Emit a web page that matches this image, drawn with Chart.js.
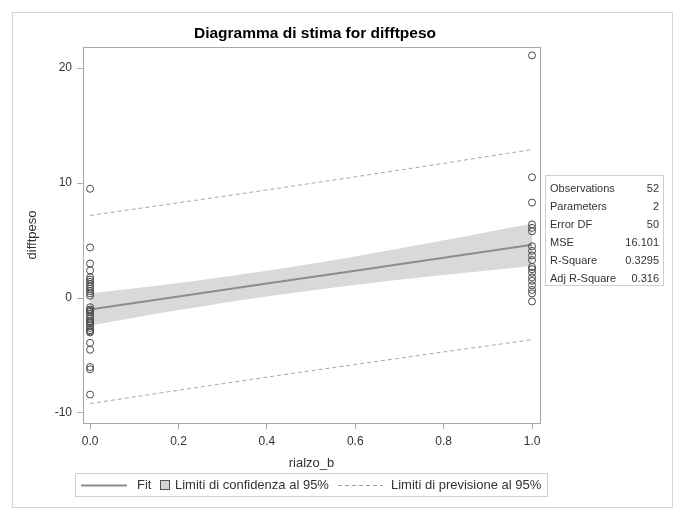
<!DOCTYPE html>
<html>
<head>
<meta charset="utf-8">
<script src="https://cdn.jsdelivr.net/npm/chart.js@4"></script>
<style>
  html, body { margin: 0; padding: 0; background: #fff; }
  canvas { display: block; }
</style>
</head>
<body>
<canvas id="myChart" width="685" height="520"></canvas>
<script>
// osservazioni (rialzo_b = 0 e rialzo_b = 1)
const diffRialzo0 = [9.5, 4.4, 3.0, 2.4, 1.8, 1.6, 1.4, 1.2, 1.0, 0.8, 0.6, 0.4, 0.2,
  -0.8, -1.0, -1.1, -1.2, -1.4, -1.6, -1.8, -2.0, -2.1, -2.2, -2.4, -2.6, -2.8, -2.9, -3.0,
  -3.9, -4.5, -6.0, -6.2, -8.4];
const diffRialzo1 = [21.1, 10.5, 8.3, 6.4, 6.1, 5.8, 4.5, 4.1, 3.7, 3.3, 2.7, 2.5, 2.2,
  1.8, 1.5, 1.1, 0.7, 0.4, -0.3];

// retta stimata e limiti al 95%
const fitX = [0, 0.2, 0.4, 0.6, 0.8, 1.0];
const fitY = [-1.0, 0.13, 1.26, 2.38, 3.51, 4.64];
const clLower = [-2.40, -1.05, 0.14, 1.14, 2.00, 2.79];
const clUpper = [0.40, 1.31, 2.38, 3.62, 5.02, 6.49];
const plLower = [-9.18, -8.02, -6.88, -5.78, -4.69, -3.63];
const plUpper = [7.18, 8.28, 9.40, 10.54, 11.71, 12.91];

const yTicks = [-10, 0, 10, 20];
const xTicks = [0, 0.2, 0.4, 0.6, 0.8, 1.0];

const statLabels = ['Observations', 'Parameters', 'Error DF', 'MSE', 'R-Square', 'Adj R-Square'];
const statValues = ['52', '2', '50', '16.101', '0.3295', '0.316'];

const FONT = '"Liberation Sans", Arial, sans-serif';
const TEXT = '#333';
const AXIS = '#a8a8a8';

const pts = (xs, ys) => xs.map((x, i) => ({ x: x, y: ys[i] }));
const points = diffRialzo0.map(v => ({ x: 0, y: v })).concat(diffRialzo1.map(v => ({ x: 1, y: v })));

const decor = {
  id: 'decor',
  beforeDraw(chart) {
    const ctx = chart.ctx;
    ctx.save();
    ctx.fillStyle = '#fff';
    ctx.fillRect(0, 0, chart.width, chart.height);
    ctx.strokeStyle = '#d4d4d4';
    ctx.lineWidth = 1;
    ctx.strokeRect(12.5, 12.5, 660, 495);
    ctx.restore();
  },
  afterDraw(chart) {
    const ctx = chart.ctx;
    const a = chart.chartArea;
    ctx.save();
    // cornice dell'area del grafico
    ctx.strokeStyle = AXIS;
    ctx.lineWidth = 1;
    ctx.strokeRect(Math.round(a.left) + 0.5, Math.round(a.top) + 0.5,
      Math.round(a.right - a.left), Math.round(a.bottom - a.top));

    // titolo
    ctx.fillStyle = '#000';
    ctx.font = 'bold 15.5px ' + FONT;
    ctx.textAlign = 'center';
    ctx.textBaseline = 'middle';
    ctx.fillText('Diagramma di stima for difftpeso', 315, 34);

    // tabella statistiche
    ctx.strokeStyle = '#cfcfcf';
    ctx.strokeRect(545.5, 175.5, 118, 110);
    ctx.font = '11px ' + FONT;
    ctx.fillStyle = TEXT;
    statLabels.forEach((lab, i) => {
      const y = 189 + i * 18;
      ctx.textAlign = 'left';
      ctx.fillText(lab, 550, y);
      ctx.textAlign = 'right';
      ctx.fillText(statValues[i], 659, y);
    });

    // legenda
    ctx.strokeStyle = '#cfcfcf';
    ctx.strokeRect(75.5, 473.5, 472, 23);
    const ly = 485;
    const ds = chart.data.datasets;
    ctx.font = '13px ' + FONT;
    ctx.textAlign = 'left';
    ctx.fillStyle = TEXT;
    ctx.strokeStyle = '#8c8c8c';
    ctx.lineWidth = 2;
    ctx.beginPath(); ctx.moveTo(81, ly + 0.5); ctx.lineTo(127, ly + 0.5); ctx.stroke();
    ctx.fillText(ds[1].label, 137, ly);
    ctx.fillStyle = '#d6d6d6';
    ctx.fillRect(160, 480, 10, 10);
    ctx.lineWidth = 1;
    ctx.strokeStyle = '#555';
    ctx.strokeRect(160.5, 480.5, 9, 9);
    ctx.fillStyle = TEXT;
    ctx.fillText(ds[4].label, 175, ly);
    ctx.strokeStyle = '#a0a0a0';
    ctx.setLineDash([4, 3]);
    ctx.beginPath(); ctx.moveTo(338, ly + 0.5); ctx.lineTo(383, ly + 0.5); ctx.stroke();
    ctx.setLineDash([]);
    ctx.fillText(ds[2].label, 391, ly);
    ctx.restore();
  }
};

new Chart(document.getElementById('myChart'), {
  data: {
    datasets: [
      {
        type: 'scatter', label: 'difftpeso', data: points, order: 0,
        pointStyle: 'circle', pointRadius: 3.5, pointBorderWidth: 1,
        borderColor: '#4a4a4a', backgroundColor: 'rgba(0,0,0,0)'
      },
      {
        type: 'line', label: 'Fit', data: pts(fitX, fitY), order: 1,
        borderColor: '#8c8c8c', borderWidth: 2, pointRadius: 0, fill: false
      },
      {
        type: 'line', label: 'Limiti di previsione al 95%', data: pts(fitX, plUpper), order: 2,
        borderColor: '#a8a8a8', borderWidth: 1, borderDash: [4, 3], pointRadius: 0, fill: false
      },
      {
        type: 'line', label: 'Limiti di previsione al 95%', data: pts(fitX, plLower), order: 2,
        borderColor: '#a8a8a8', borderWidth: 1, borderDash: [4, 3], pointRadius: 0, fill: false
      },
      {
        type: 'line', label: 'Limiti di confidenza al 95%', data: pts(fitX, clLower), order: 3,
        borderColor: 'rgba(0,0,0,0)', borderWidth: 0, pointRadius: 0, fill: false, tension: 0.3
      },
      {
        type: 'line', label: 'Limiti di confidenza al 95%', data: pts(fitX, clUpper), order: 3,
        borderColor: 'rgba(0,0,0,0)', borderWidth: 0, pointRadius: 0, tension: 0.3,
        fill: '-1', backgroundColor: '#d9d9d9'
      }
    ]
  },
  options: {
    responsive: false,
    animation: false,
    layout: { padding: { left: 12, top: 47, right: 145, bottom: 37 } },
    plugins: { legend: { display: false }, title: { display: false }, tooltip: { enabled: false } },
    scales: {
      x: {
        type: 'linear', min: -0.016, max: 1.018,
        afterFit: s => { s.height = 60; },
        afterBuildTicks: s => { s.ticks = xTicks.map(v => ({ value: v })); },
        grid: { drawOnChartArea: false, drawTicks: true, tickLength: 6, color: AXIS },
        border: { color: AXIS },
        ticks: { color: TEXT, font: { family: FONT, size: 12 }, padding: 5, maxRotation: 0,
          callback: v => Number(v).toFixed(1) },
        title: { display: true, text: 'rialzo_b', color: TEXT, font: { family: FONT, size: 13 },
          padding: { top: 0, bottom: 12 } }
      },
      y: {
        type: 'linear', min: -10.87, max: 21.83,
        afterFit: s => { s.width = 71; },
        afterBuildTicks: s => { s.ticks = yTicks.map(v => ({ value: v })); },
        grid: { drawOnChartArea: false, drawTicks: true, tickLength: 6, color: AXIS },
        border: { color: AXIS },
        ticks: { color: TEXT, font: { family: FONT, size: 12 }, padding: 5 },
        title: { display: true, text: 'difftpeso', color: TEXT, font: { family: FONT, size: 13 },
          padding: { top: 13, bottom: 0 } }
      }
    }
  },
  plugins: [decor]
});
</script>
</body>
</html>
